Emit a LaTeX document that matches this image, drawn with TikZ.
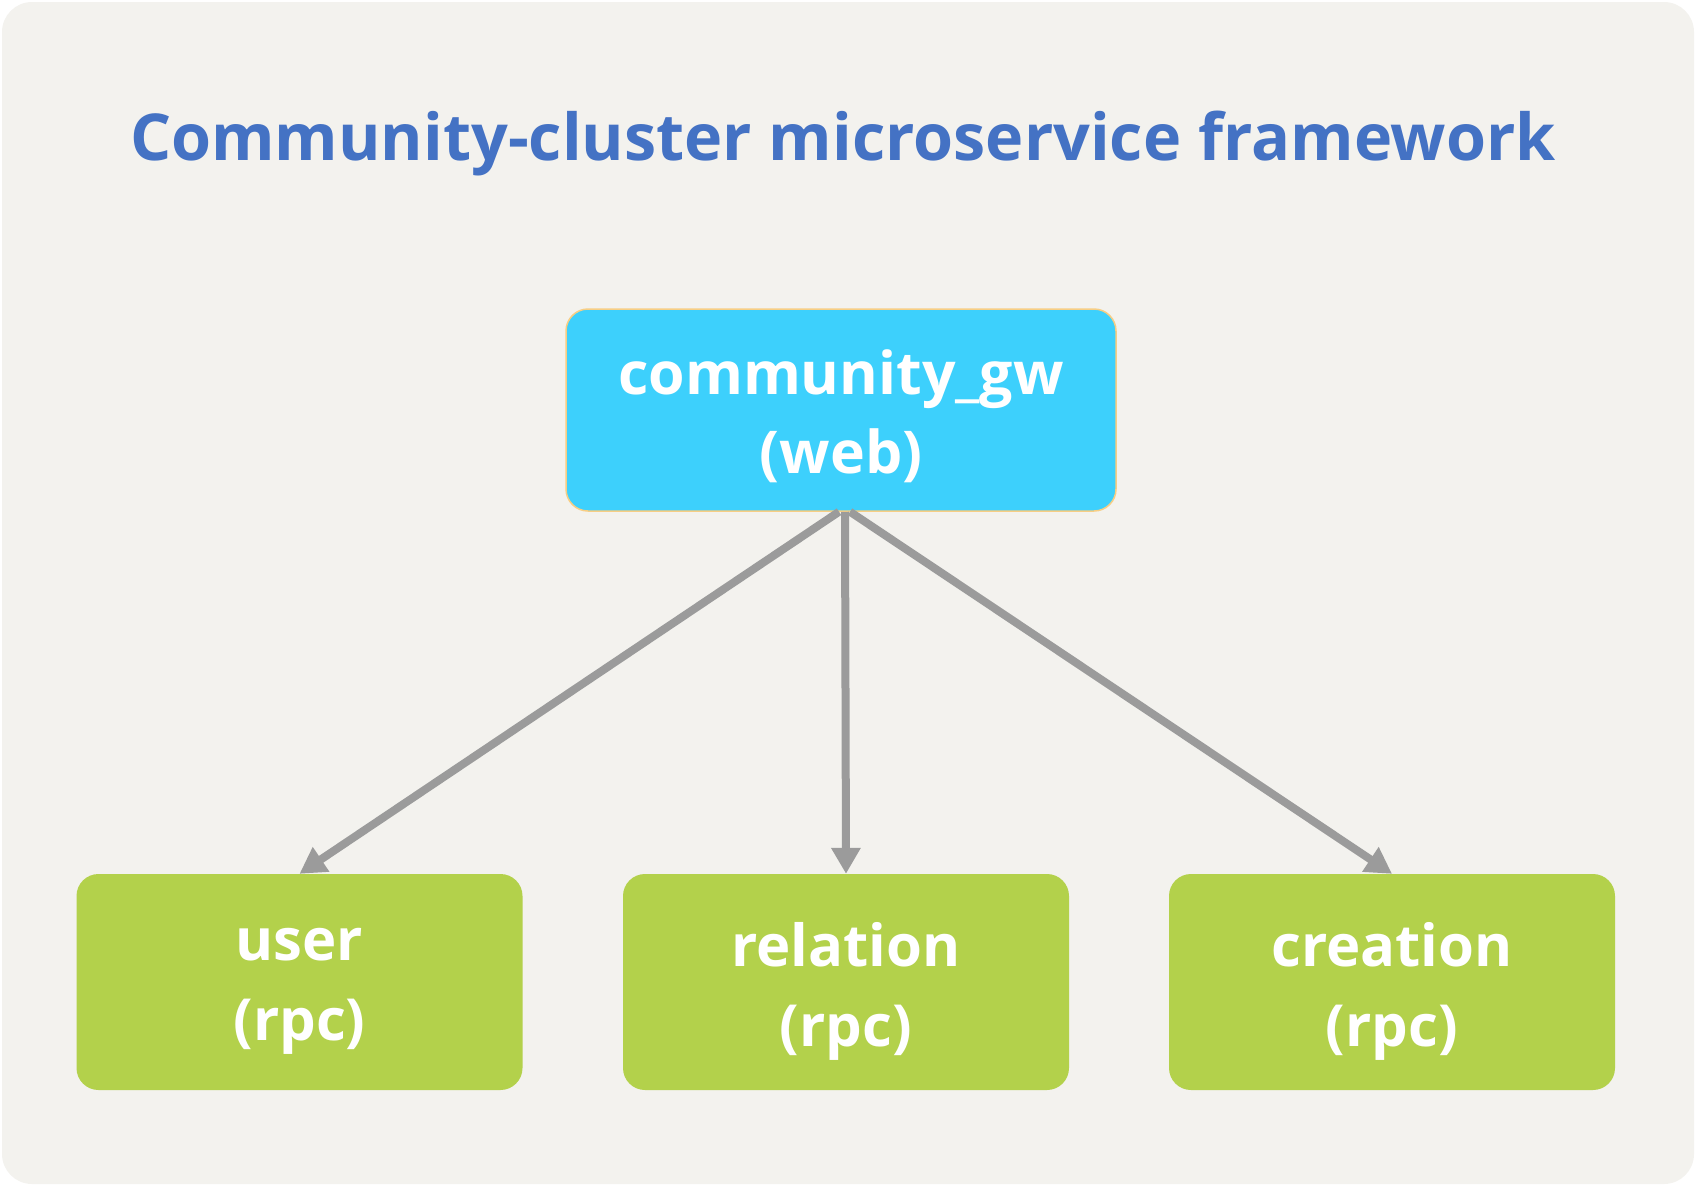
\documentclass[tikz,border=0pt]{standalone}
\usepackage{fontspec}
\setmainfont{Open Sans}
\usetikzlibrary{arrows.meta}
\definecolor{bgc}{HTML}{F3F2EE}
\definecolor{titlec}{HTML}{4472C4}
\definecolor{gwc}{HTML}{3DD0FC}
\definecolor{gwborder}{HTML}{F7CE84}
\definecolor{svc}{HTML}{B3D14B}
\definecolor{arrc}{HTML}{9B9B9B}
\tikzset{
  titlestyle/.style={text=titlec, font=\bfseries\fontsize{64.7}{78}\selectfont, inner sep=0pt},
  gwbox/.style={fill=gwc, draw=gwborder, line width=1.5pt, rounded corners=22pt,
    minimum width=550pt, minimum height=202pt, inner sep=0pt},
  svcbox/.style={fill=svc, rounded corners=22pt, minimum width=446pt, minimum height=216pt, inner sep=0pt},
  gwtext/.style={text=white, align=center, font=\bfseries\fontsize{59}{79}\selectfont, inner sep=0pt},
  svtext/.style={text=white, align=center, font=\bfseries\fontsize{58}{80}\selectfont, inner sep=0pt},
  conn/.style={draw=arrc, line width=8pt, -{Triangle[length=26pt,width=28pt]}}
}
\begin{document}
\begin{tikzpicture}[x=1pt,y=-1pt]
\useasboundingbox (0,0) rectangle (1696,1186);
\fill[bgc, rounded corners=30pt] (2,2) rectangle (1694,1184);
\node[titlestyle] (title) at (843,144) {Community-cluster microservice framework};
\node[gwbox] (gw) at (841,410) {};
\node[gwtext] (gwt) at (841,416.5) {community\_gw\\(web)};
\node[svcbox] (user) at (299.5,982) {};
\node[svcbox] (relation) at (846,982) {};
\node[svcbox] (creation) at (1392,982) {};
\node[svtext] (usert) at (299.5,991) {user\\(rpc)};
\node[svtext] (relationt) at (846,991) {relation\\(rpc)};
\node[svtext] (creationt) at (1392,991) {creation\\(rpc)};
\draw[conn] ([xshift=-2pt]gw.south) -- (user.north);
\draw[conn] ([xshift=4pt]gw.south) -- (relation.north);
\draw[conn] ([xshift=9pt]gw.south) -- (creation.north);
\end{tikzpicture}
\end{document}
